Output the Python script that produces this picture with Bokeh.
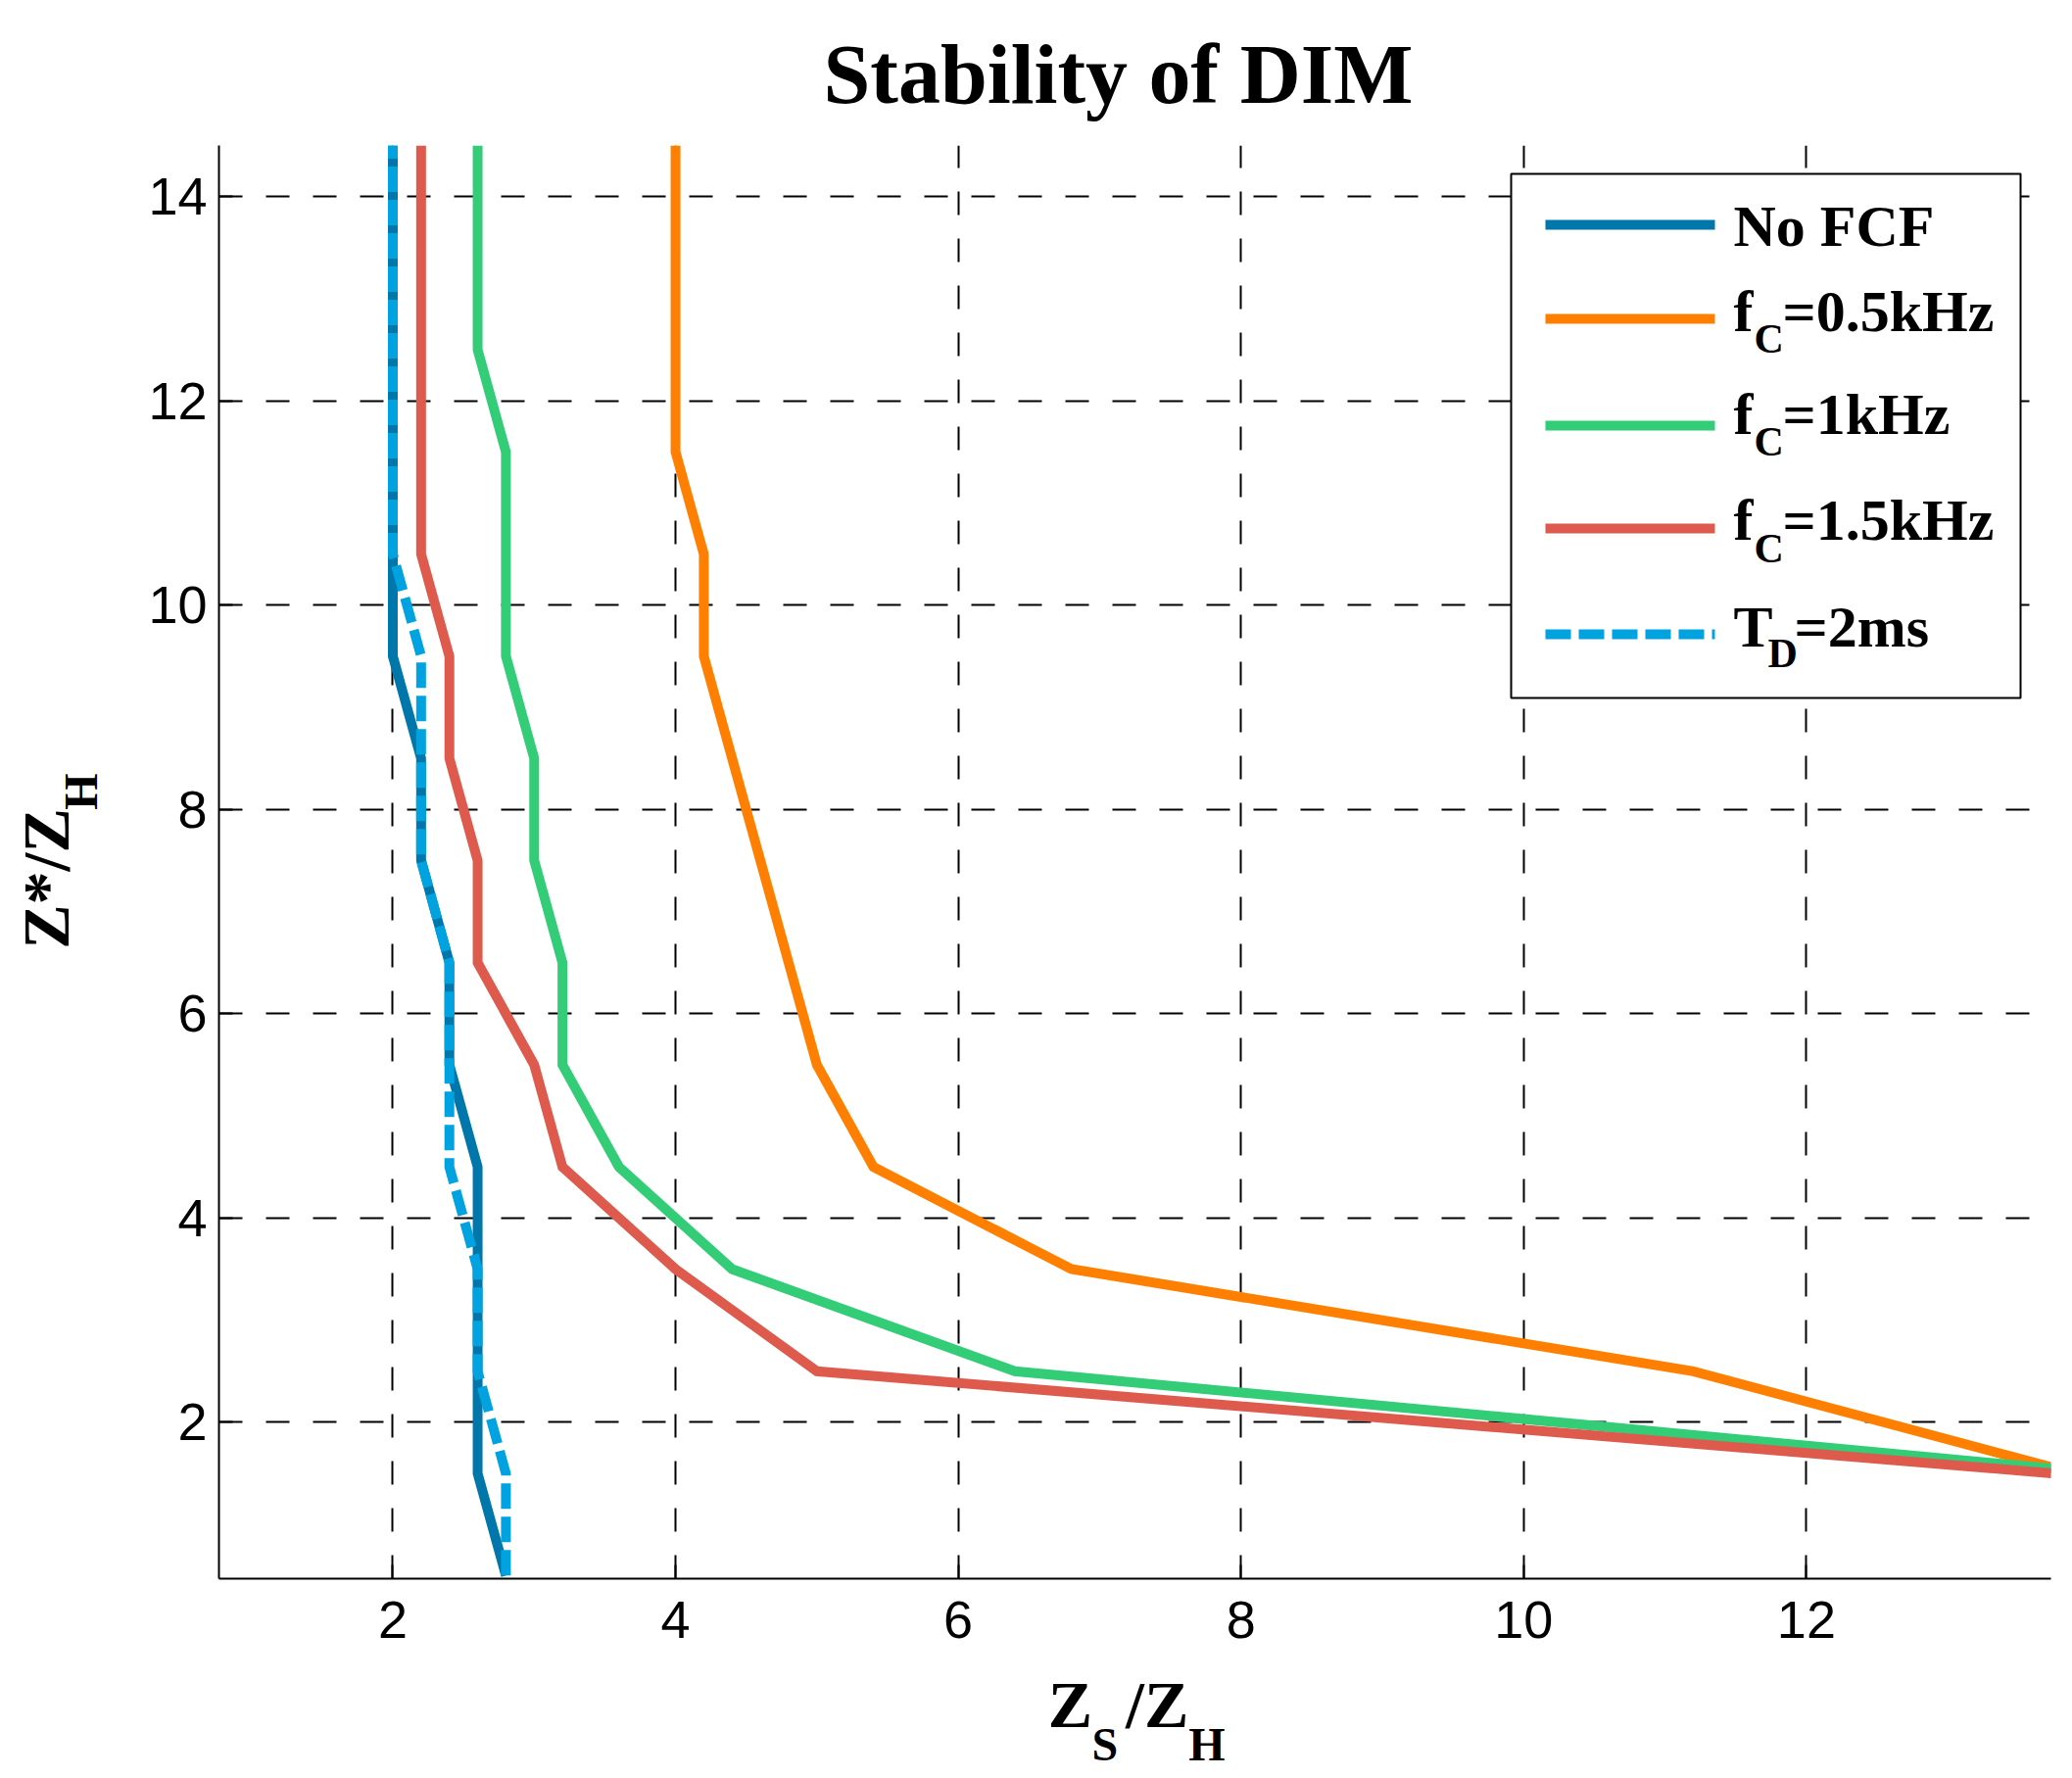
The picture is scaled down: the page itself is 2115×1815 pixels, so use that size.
from bokeh.plotting import figure
from bokeh.models import Range1d, FixedTicker, Label, BoxAnnotation, Arrow, LinearAxis
from bokeh.embed import file_html
from bokeh.resources import INLINE

# ---------------- data ----------------
y_levels = [0.5, 1.5, 2.5, 3.5, 4.5, 5.5, 6.5, 7.5, 8.5, 9.5, 10.5, 11.5, 12.5, 13.5, 14.5]

no_fcf_x = [2.8, 2.6, 2.6, 2.6, 2.6, 2.4, 2.4, 2.2, 2.2, 2.0, 2.0, 2.0, 2.0, 2.0, 2.0]
no_fcf_y = y_levels

fc05_x = [13.9, 11.2, 6.8, 5.4, 5.0, 4.8, 4.6, 4.4, 4.2, 4.2, 4.0, 4.0, 4.0, 4.0]
fc05_y = y_levels[1:]

fc1_x = [14.1, 6.4, 4.4, 3.6, 3.2, 3.2, 3.0, 3.0, 2.8, 2.8, 2.8, 2.6, 2.6, 2.6]
fc1_y = y_levels[1:]

fc15_x = [13.75, 5.0, 4.0, 3.2, 3.0, 2.6, 2.6, 2.4, 2.4, 2.2, 2.2, 2.2, 2.2, 2.2]
fc15_y = y_levels[1:]

td_x = [2.8, 2.8, 2.6, 2.6, 2.4, 2.4, 2.4, 2.2, 2.2, 2.2, 2.0, 2.0, 2.0, 2.0, 2.0]
td_y = y_levels

x_ticks = [2, 4, 6, 8, 10, 12]
y_ticks = [2, 4, 6, 8, 10, 12, 14]

colors = ["#0077AA", "#FF8000", "#33CC77", "#DD5A4D", "#00A3E0"]
dashes = ["solid", "solid", "solid", "solid", "26 8"]

NB = "\u00a0"
SERIF = "Liberation Serif"

# ---------------- figure ----------------
p = figure(width=2115, height=1815, output_backend="svg", toolbar_location=None,
           x_range=Range1d(0.77, 13.73), y_range=Range1d(0.47, 14.5),
           min_border_left=223, min_border_right=22, min_border_top=147,
           min_border_bottom=204, title="Stability of DIM")
p.outline_line_color = None
p.background_fill_color = "white"
p.border_fill_color = "white"

p.title.text_font = SERIF
p.title.text_font_style = "bold"
p.title.text_font_size = "86px"
p.title.text_color = "black"
p.title.align = "left"
p.title.offset = 617
p.title.standoff = 50

for ax, ticks in ((p.xaxis, x_ticks), (p.yaxis, y_ticks)):
    ax.ticker = FixedTicker(ticks=ticks)
    ax.major_label_text_font = "Liberation Sans"
    ax.major_label_text_font_size = "54px"
    ax.major_label_text_color = "black"
    ax.axis_line_color = "black"
    ax.axis_line_width = 2
    ax.major_tick_line_color = "black"
    ax.major_tick_line_width = 2
    ax.major_tick_in = 14
    ax.major_tick_out = 0
    ax.minor_tick_line_color = None
    ax.axis_label_text_font = SERIF
    ax.axis_label_text_font_style = "bold"
    ax.axis_label_text_color = "black"
p.xaxis.major_label_standoff = 23
p.yaxis.major_label_standoff = 12

# x label: main row "Z  /Z" on the axis, subscripts "S  H" on an extra axis below
p.xaxis.axis_label = "Z" + NB * 2 + "/Z" + NB * 2
p.xaxis.axis_label_text_font_size = "68px"
p.xaxis.axis_label_standoff = 27

# y label: subscript "H" on the axis itself, main "Z*/Z" on an extra axis further out
p.yaxis.axis_label = NB * 12 + "H"
p.yaxis.axis_label_text_font_size = "48px"
p.yaxis.axis_label_standoff = 39


def label_axis(text, size, standoff):
    return LinearAxis(ticker=FixedTicker(ticks=[]), axis_label=text,
                      axis_line_color=None, major_tick_line_color=None,
                      minor_tick_line_color=None, major_label_text_font_size="0px",
                      major_label_standoff=0, major_tick_in=0, major_tick_out=0,
                      minor_tick_in=0, minor_tick_out=0,
                      axis_label_text_font=SERIF, axis_label_text_font_style="bold",
                      axis_label_text_font_size=size, axis_label_text_color="black",
                      axis_label_standoff=standoff)

p.add_layout(label_axis(NB * 4 + "S" + NB * 6 + "H", "48px", -27), "below")
p.add_layout(label_axis("Z*/Z" + NB * 2, "68px", -31), "left")

for g in (p.xgrid, p.ygrid):
    g.grid_line_color = "black"
    g.grid_line_width = 2
    g.grid_line_dash = "24 24"

series = [(no_fcf_x, no_fcf_y), (fc05_x, fc05_y), (fc1_x, fc1_y), (fc15_x, fc15_y), (td_x, td_y)]
for (xs, ys), c, d in zip(series, colors, dashes):
    p.line(xs, ys, line_color=c, line_width=10, line_dash=d, line_join="miter")

# ---------------- legend ----------------
LIFT = 20

def lab(text, x, y, size):
    p.add_layout(Label(x=x, y=y + LIFT, x_units="screen", y_units="screen", text=text,
                       text_font=SERIF, text_font_style="bold", text_font_size=size,
                       text_color="black", text_align="left", text_baseline="alphabetic"))

p.add_layout(BoxAnnotation(left=1319, right=1839, top=1434, bottom=899,
                           left_units="screen", right_units="screen",
                           top_units="screen", bottom_units="screen",
                           fill_color="white", fill_alpha=1.0,
                           line_color="black", line_width=2, line_alpha=1.0))

row_line_y = [1382, 1286, 1177, 1072, 964]
for yy, c, d in zip(row_line_y, colors, dashes):
    p.add_layout(Arrow(x_start=1354, y_start=yy, x_end=1527, y_end=yy,
                       start_units="screen", end_units="screen", start=None, end=None,
                       line_color=c, line_width=10, line_dash=d))

lab("No FCF", 1546, 1361, "60px")
for base, sub, rest in ((1274, 1246, "=0.5kHz"), (1169, 1141, "=1kHz"), (1061, 1032, "=1.5kHz")):
    lab("f", 1546, base, "60px")
    lab("C", 1567, sub, "42px")
    lab(rest, 1596, base, "60px")
lab("T", 1546, 952, "60px")
lab("D", 1581, 925, "42px")
lab("=2ms", 1608, 952, "60px")

open("out.html", "w").write(file_html(p, INLINE))
